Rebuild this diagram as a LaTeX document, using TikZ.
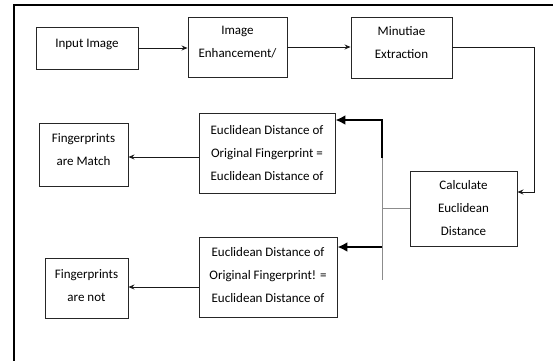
\documentclass[tikz,border=0pt]{standalone}
\usepackage{fontspec}
\setmainfont{Carlito}
\usetikzlibrary{arrows.meta}
\begin{document}
\begin{tikzpicture}[x=1pt,y=-1pt,
  box/.style={draw=black!85, line width=0.9pt, inner sep=0pt},
  lab/.style={align=center, inner sep=0pt, font=\fontsize{13}{23}\selectfont, text=black},
  thinarrow/.style={draw=black!90, line width=0.9pt, -{Stealth[length=6pt,width=5pt]}},
  thickarrow/.style={line width=2pt, -{Latex[length=10pt,width=10pt]}},
  bus/.style={draw=black!45, line width=1pt},
  frame/.style={line width=2pt}]
\useasboundingbox (0,0) rectangle (553,360);
\draw[frame] (14,361) -- (14,5) -- (554,5);

\node[box, minimum width=102pt, minimum height=42pt,
  label={[lab, yshift=4pt]center:Input Image}] (in) at (87,48) {};
\node[box, minimum width=99pt, minimum height=60pt,
  label={[lab, yshift=4.5pt]center:Image\\Enhancement/}] (enh) at (237.5,47) {};
\node[box, minimum width=101pt, minimum height=61pt,
  label={[lab, yshift=4.5pt]center:Minutiae\\Extraction}] (min) at (401.5,47.5) {};
\node[box, minimum width=107pt, minimum height=75pt,
  label={[lab]center:Calculate\\Euclidean\\Distance}] (calc) at (463.5,208.5) {};
\node[box, minimum width=136pt, minimum height=80pt,
  label={[lab]center:Euclidean Distance of\\Original Fingerprint =\\Euclidean Distance of}] (e1) at (267,153) {};
\node[box, minimum width=138pt, minimum height=80pt,
  label={[lab, yshift=2pt]center:Euclidean Distance of\\Original Fingerprint! =\\Euclidean Distance of}] (e2) at (268,277) {};
\node[box, minimum width=89pt, minimum height=63pt,
  label={[lab, yshift=5pt]center:Fingerprints\\are Match}] (fm) at (83.5,154.5) {};
\node[box, minimum width=83pt, minimum height=60pt,
  label={[lab, yshift=2.5pt]center:Fingerprints\\are not}] (fn) at (86.5,288) {};

\draw[thinarrow] (in.east) -- (in.east -| enh.west);
\draw[thinarrow] (enh.east) -- (enh.east -| min.west);
\coordinate (c2) at (534,192);
\draw[thinarrow] (min.east) -| (c2) -- (c2 -| calc.east);

\coordinate (bt) at (382,158);
\coordinate (bb) at (382,280);
\coordinate (btop) at (382,120);
\coordinate (bl) at (382,247);
\draw[bus] (bt) -- (bb);
\draw[bus] (calc.west) -- (calc.west -| bt);
\draw[thickarrow] (bt) -- (btop) -- (btop -| e1.east);
\draw[thickarrow] (bl) -- (bl -| e2.east);

\coordinate (a1) at ([yshift=-4pt]e1.west);
\draw[thinarrow] (a1) -- (a1 -| fm.east);
\coordinate (a2) at ([yshift=-10pt]e2.west);
\draw[thinarrow] (a2) -- (a2 -| fn.east);
\end{tikzpicture}
\end{document}
